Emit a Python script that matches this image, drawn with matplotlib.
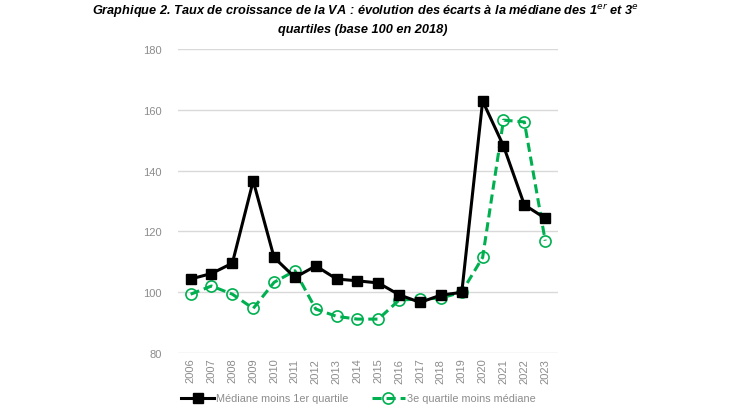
import matplotlib.pyplot as plt
import numpy as np

years = [str(y) for y in range(2006, 2024)]
mediane_q1 = [104.3, 106.1, 109.5, 136.6, 111.4, 104.8, 108.6, 104.3, 103.7, 103.0,
              99.1, 96.6, 99.0, 99.9, 162.9, 148.1, 128.7, 124.3]
q3_mediane = [99.3, 102.0, 99.3, 94.6, 103.2, 107.0, 94.4, 92.0, 91.1, 91.1,
              97.4, 97.7, 98.0, 100.0, 111.4, 156.6, 156.0, 116.9]

plt.rcParams['font.family'] = ['Liberation Sans Narrow', 'Liberation Sans', 'DejaVu Sans']

fig = plt.figure(figsize=(7.3, 4.1), dpi=100)
ax = fig.add_axes([0.244, 0.137, 0.52, 0.741])

x = np.arange(len(years))
ax.plot(x, mediane_q1, color='black', lw=2.2, marker='s', ms=7,
        label='Médiane moins 1er quartile', zorder=3)
ax.plot(x, q3_mediane, color='#00B050', lw=2.2, ls=(0, (3, 1.6)), marker='o', ms=8,
        mfc='none', mec='#00B050', mew=1.2, label='3e quartile moins médiane', zorder=2)

ax.set_ylim(80, 180)
ax.set_yticks(range(80, 181, 20))
ax.set_xlim(-0.6, len(years) - 0.4)
ax.set_xticks(x)
ax.set_xticklabels(years, rotation=90)
ax.grid(axis='y', color='#d9d9d9', lw=1)
ax.set_axisbelow(True)
for s in ax.spines.values():
    s.set_visible(False)
ax.tick_params(length=0, colors='#8c8c8c', labelsize=8)
ax.tick_params(axis='y', pad=12)

ax.legend(loc='center', bbox_to_anchor=(0.475, -0.15), ncol=2, frameon=False,
          fontsize=7.8, labelcolor='#8c8c8c', handlelength=3.0, columnspacing=2.2,
          handletextpad=0.2)

fig.text(0.5, 0.963, "Graphique 2. Taux de croissance de la VA : évolution des écarts à la médiane des 1$^{er}$ et 3$^{e}$",
         ha='center', va='baseline', fontsize=9.2, style='italic', weight='bold')
fig.text(0.497, 0.92, "quartiles (base 100 en 2018)",
         ha='center', va='baseline', fontsize=9.2, style='italic', weight='bold')

fig.savefig('out.png', dpi=100)
